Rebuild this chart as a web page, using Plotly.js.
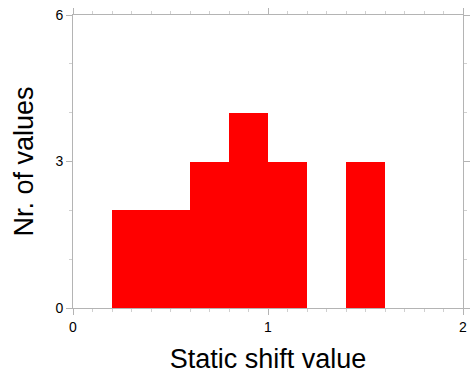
<!DOCTYPE html>
<html>
<head>
<meta charset="utf-8">
<script src="https://cdn.plot.ly/plotly-3.0.1.min.js"></script>
<style>
  html, body { margin: 0; padding: 0; background: #fff; }
  #chart { width: 470px; height: 376px; }
</style>
</head>
<body>
<div id="chart"></div>
<script>
// Histogram of static shift values, bins of width 0.2
const binCenters = [0.3, 0.5, 0.7, 0.9, 1.1, 1.3, 1.5];
const binCounts = [2, 2, 3, 4, 3, 0, 3];
const binWidth = 0.2;
const xTickVals = [0, 1, 2];
const yTickVals = [0, 3, 6];

const axisColor = '#b4b4b4';
const font = { family: 'Liberation Sans, Arial, sans-serif', color: '#000' };

Plotly.newPlot('chart', [{
  type: 'bar',
  x: binCenters,
  y: binCounts,
  width: binCenters.map(() => binWidth),
  marker: { color: '#ff0000', line: { width: 0 } },
  hoverinfo: 'x+y'
}], {
  width: 470,
  height: 376,
  margin: { l: 73, r: 7, t: 15, b: 68 },
  paper_bgcolor: '#fff',
  plot_bgcolor: '#fff',
  showlegend: false,
  font: font,
  xaxis: {
    range: [0, 2],
    tickmode: 'array',
    tickvals: xTickVals,
    ticktext: xTickVals.map(String),
    ticks: 'outside',
    ticklen: 6,
    tickcolor: axisColor,
    tickfont: { size: 14, color: '#000' },
    showline: true,
    linecolor: axisColor,
    linewidth: 1,
    mirror: 'ticks',
    showgrid: false,
    zeroline: false,
    minor: { dtick: 0.1, ticks: 'outside', ticklen: 3, tickcolor: '#d0d0d0', showgrid: false },
    title: { text: 'Static shift value', font: { size: 27, color: '#000' }, standoff: 15 }
  },
  yaxis: {
    range: [0, 6],
    tickmode: 'array',
    tickvals: yTickVals,
    ticktext: yTickVals.map(String),
    ticks: 'outside',
    ticklen: 6,
    tickcolor: axisColor,
    tickfont: { size: 14, color: '#000' },
    showline: true,
    linecolor: axisColor,
    linewidth: 1,
    mirror: 'ticks',
    showgrid: false,
    zeroline: false,
    minor: { dtick: 1, ticks: 'outside', ticklen: 3, tickcolor: '#d0d0d0', showgrid: false },
    title: { text: 'Nr. of values', font: { size: 27, color: '#000' }, standoff: 13 }
  },
  bargap: 0
}, { displayModeBar: false, staticPlot: true });
</script>
</body>
</html>
